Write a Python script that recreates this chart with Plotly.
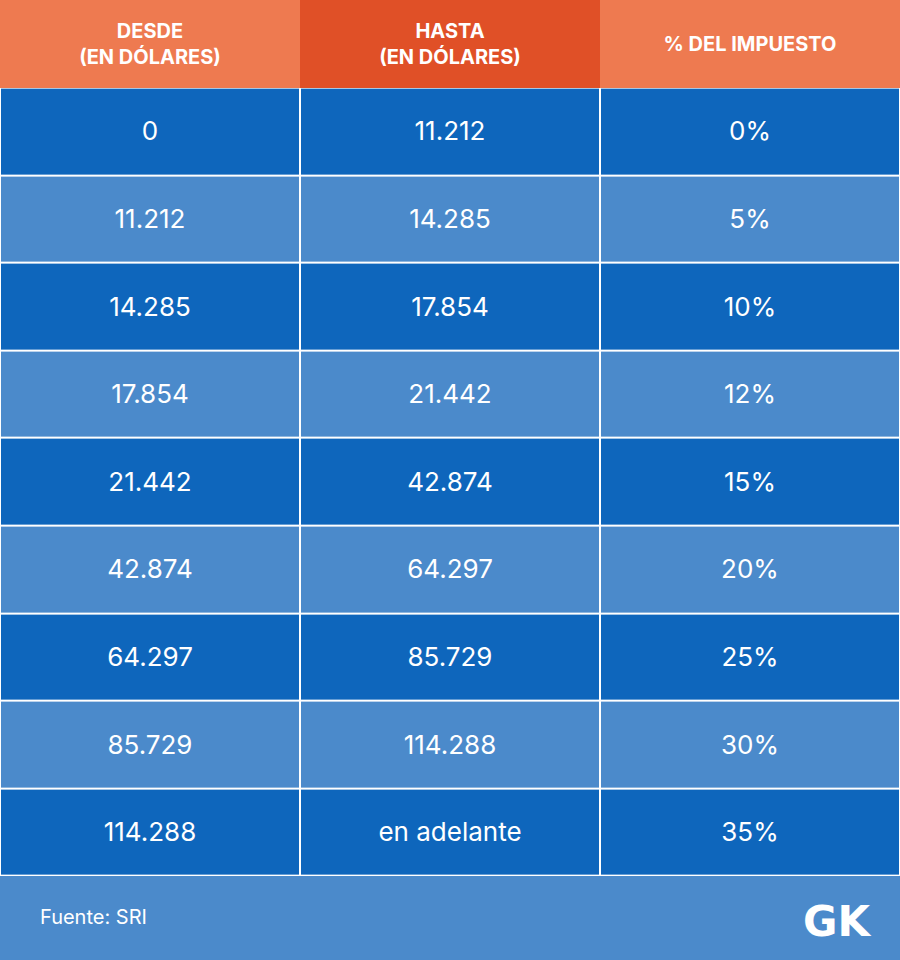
import plotly.graph_objects as go

headers = ["<b>DESDE<br>(EN DÓLARES)</b>", "<b>HASTA<br>(EN DÓLARES)</b>", "<b>% DEL IMPUESTO</b>"]
desde = ["0", "11.212", "14.285", "17.854", "21.442", "42.874", "64.297", "85.729", "114.288"]
hasta = ["11.212", "14.285", "17.854", "21.442", "42.874", "64.297", "85.729", "114.288", "en adelante"]
impuesto = ["0%", "5%", "10%", "12%", "15%", "20%", "25%", "30%", "35%"]

dark = "#0E66BC"
light = "#4B8ACB"
orange = "#EE7A50"
dark_orange = "#E05027"

n = len(desde)
cols = [0, 1, 2]
rows = list(range(n))[::-1]  # first data row at top
body_text = [[desde[i], hasta[i], impuesto[i]] for i in range(n)]
body_z = [[i % 2] * 3 for i in range(n)]

fig = go.Figure()
fig.add_trace(go.Heatmap(
    x=cols, y=rows, z=body_z, text=body_text, texttemplate="%{text}",
    colorscale=[[0, dark], [1, light]], zmin=0, zmax=1, showscale=False,
    xgap=2, ygap=2, hoverinfo="skip",
    textfont=dict(color="white", size=26, family="Inter"),
))
fig.add_trace(go.Heatmap(
    x=cols, y=[n], z=[[0, 1, 0]], text=[headers], texttemplate="%{text}",
    colorscale=[[0, orange], [1, dark_orange]], zmin=0, zmax=1, showscale=False,
    hoverinfo="skip",
    textfont=dict(color="white", size=20, family="Inter"),
))

fig.add_annotation(x=38 / 900, y=1 - 917 / 960, xref="paper", yref="paper", text="Fuente: SRI",
                   showarrow=False, xanchor="left", yanchor="middle",
                   font=dict(color="white", size=20, family="Inter"))
fig.add_annotation(x=873 / 900, y=1 - 921 / 960, xref="paper", yref="paper", text="<b>GK</b>",
                   showarrow=False, xanchor="right", yanchor="middle",
                   font=dict(color="white", size=42, family="DejaVu Sans"))

fig.update_layout(width=900, height=960, margin=dict(l=0, r=0, t=0, b=0),
                  paper_bgcolor=light, plot_bgcolor="white")
fig.update_xaxes(visible=False, range=[-0.5, 2.5], domain=[0, 1])
fig.update_yaxes(visible=False, range=[-0.5, n + 0.5], domain=[(960 - 876) / 960, 1])
fig.write_html("out.html", config={"displayModeBar": False},
               post_script="document.body.style.margin='0';")
